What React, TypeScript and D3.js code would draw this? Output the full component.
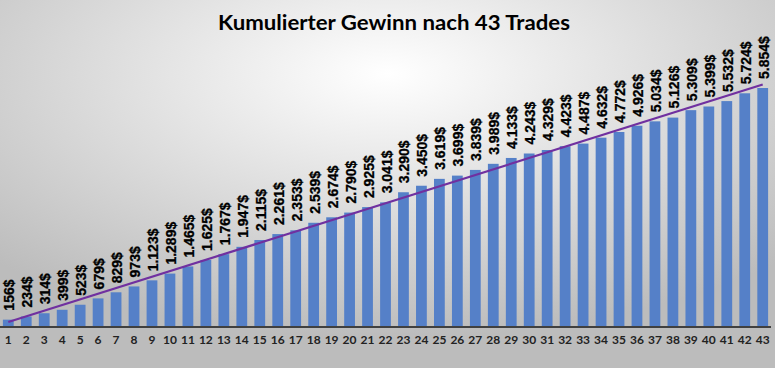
import { useMemo } from 'react'
import * as d3 from 'd3'

const trades = d3.range(1, 44)
const gewinn = [
  156, 234, 314, 399, 523, 679, 829, 973, 1123, 1289, 1465, 1625, 1767, 1947, 2115,
  2261, 2353, 2539, 2674, 2790, 2925, 3041, 3290, 3450, 3619, 3699, 3839, 3989, 4133,
  4243, 4329, 4423, 4487, 4632, 4772, 4926, 5034, 5126, 5309, 5399, 5532, 5724, 5854,
]
const title = 'Kumulierter Gewinn nach 43 Trades'

const W = 775
const H = 368
const baseY = 326

const fmt = (v: number) => d3.format(',')(v).replace(/,/g, '.') + '$'

export default function App() {
  const x = useMemo(
    () => d3.scaleBand<number>().domain(trades).range([2, 769]).paddingInner(0.4).paddingOuter(0.05),
    []
  )
  const y = useMemo(() => d3.scaleLinear().domain([0, 5854]).range([baseY, 88]), [])

  // linear trendline (least squares), like Excel
  const trend = useMemo(() => {
    const mx = d3.mean(trades)!
    const my = d3.mean(gewinn)!
    const num = d3.sum(trades, (t, i) => (t - mx) * (gewinn[i] - my))
    const den = d3.sum(trades, (t) => (t - mx) ** 2)
    const slope = num / den
    const icpt = my - slope * mx
    return [trades[0], trades[trades.length - 1]].map((t) => ({ t, v: icpt + slope * t }))
  }, [])

  const line = d3
    .line<{ t: number; v: number }>()
    .x((d) => x(d.t)! + x.bandwidth() / 2)
    .y((d) => y(d.v))

  return (
    <svg width={W} height={H} style={{ position: 'absolute', left: 0, top: 0 }}>
      <defs>
        <radialGradient id="bg" cx="50%" cy="20%" r="72%">
          <stop offset="0%" stopColor="#ffffff" />
          <stop offset="100%" stopColor="#bcbcbc" />
        </radialGradient>
      </defs>
      <rect width={W} height={H} fill="url(#bg)" />

      <text
        x={394}
        y={30}
        textAnchor="middle"
        fontFamily="Lato, 'Open Sans', sans-serif"
        fontWeight="bold"
        fontSize={21}
        textLength={352}
        lengthAdjust="spacingAndGlyphs"
        fill="#000"
      >
        {title}
      </text>

      {gewinn.map((v, i) => (
        <rect
          key={i}
          x={x(trades[i])}
          y={y(v)}
          width={x.bandwidth()}
          height={baseY - y(v)}
          fill="#5580c8"
        />
      ))}

      <line x1={0} x2={771} y1={baseY + 1} y2={baseY + 1} stroke="#404040" strokeWidth={2} />

      <path d={line(trend) ?? ''} fill="none" stroke="#7030a0" strokeWidth={2.2} />

      {gewinn.map((v, i) => {
        const cx = x(trades[i])! + x.bandwidth() / 2 + 6
        const cy = y(v) - 9
        return (
          <text
            key={i}
            transform={`translate(${cx},${cy}) rotate(-90)`}
            fontFamily="'Liberation Sans', Arial, sans-serif"
            fontWeight="bold"
            fontSize={14}
            stroke="#000"
            strokeWidth={0.3}
            fill="#000"
          >
            {fmt(v)}
          </text>
        )
      })}

      {trades.map((t) => (
        <text
          key={t}
          x={x(t)! + x.bandwidth() / 2}
          y={344}
          textAnchor="middle"
          fontFamily="Lato, sans-serif"
          fontWeight="bold"
          fontSize={12}
          fill="#222"
        >
          {t}
        </text>
      ))}
    </svg>
  )
}
